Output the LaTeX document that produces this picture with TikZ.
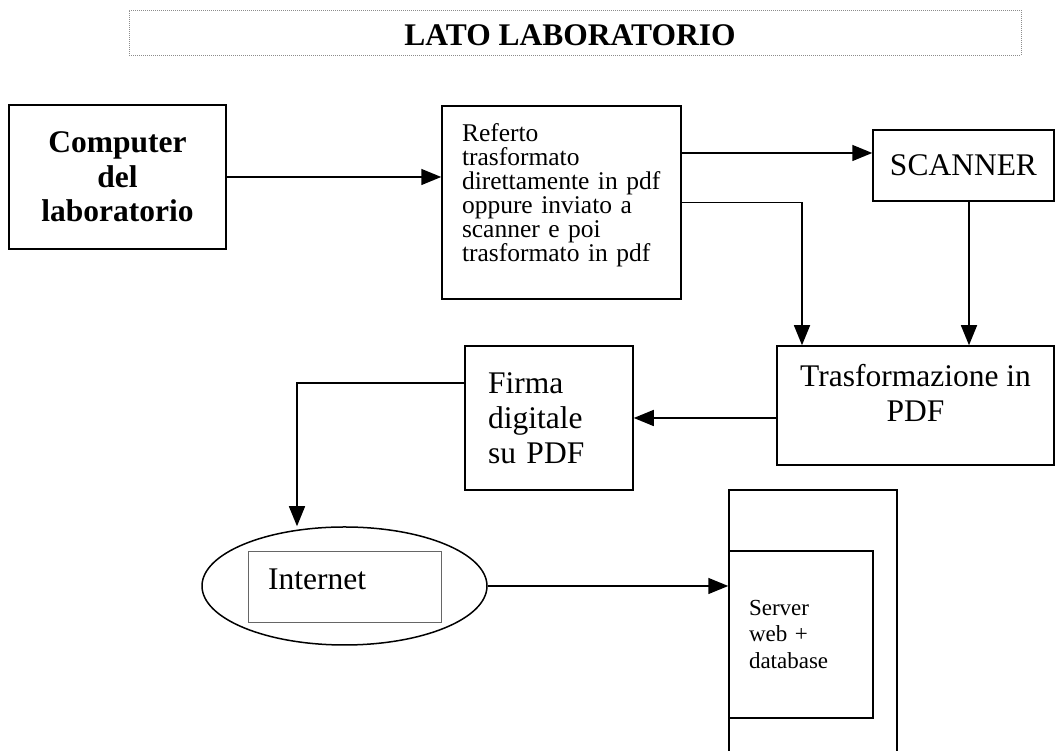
\documentclass[tikz,border=0pt]{standalone}
\usepackage{fontspec}
\setmainfont{Liberation Serif}
\usetikzlibrary{arrows.meta,shapes.geometric,positioning}

\begin{document}
\begin{tikzpicture}[x=1pt, y=1pt,
		box/.style={draw, line width=1.5pt, inner sep=0pt},
		big/.style={font=\fontsize{31.5}{35}\selectfont},
		small/.style={font=\fontsize{25.5}{24}\selectfont},
		arr/.style={line width=1.5pt, -{Triangle[length=20pt, width=16pt]}}]
		\clip (0,0) rectangle (1055,751);
		% titolo
		\node[draw=black!45, dash pattern=on 1pt off 1pt, line width=0.9pt, inner sep=0pt, minimum width=892pt, minimum height=45pt] (title) at (575,718.5) {};
		\node[big, font=\fontsize{31.5}{35}\selectfont\bfseries] (titletext) at (570,716) {LATO LABORATORIO};
		% blocchi
		\node[box, big, font=\fontsize{31.5}{34.5}\selectfont\bfseries, align=center, minimum width=217pt, minimum height=144pt] (comp) at (117.5,574) {Computer\\del\\laboratorio};
		\node[box, small, text width=199pt, align=left, text depth=140pt, minimum width=239pt, minimum height=193pt] (referto) at (561.5,548.5) {Referto\\trasformato\\direttamente in pdf\\oppure inviato a\\scanner e poi\\trasformato in pdf};
		\node[box, big, minimum width=181pt, minimum height=71pt] (scanner) at (963.5,585.5) {SCANNER};
		\node[box, big, align=center, text depth=26pt, minimum width=277pt, minimum height=119pt] (trasf) at (915.5,345.5) {Trasformazione in\\PDF};
		\node[box, big, text width=122pt, align=left, minimum width=168pt, minimum height=144pt] (firma) at (549,333) {Firma\\digitale\\su PDF};
		\node[ellipse, draw, line width=1.5pt, minimum width=285pt, minimum height=118pt] (net) at (344.5,165) {};
		\node[draw=black!60, line width=0.9pt, minimum width=193pt, minimum height=71pt] (netbox) at (344.5,164.5) {};
		\node[big, anchor=base west, inner sep=0pt] (nettext) at (268,161) {Internet};
		\node[box, minimum width=168pt, minimum height=310pt] (srvout) at (813,106) {};
		\node[box, font=\fontsize{23}{26.5}\selectfont, text width=104pt, align=left, minimum width=144pt, minimum height=167pt] (srvin) at (801,116.5) {Server\\web +\\database};
		% frecce
		\draw[arr] (comp.east) -- (comp.east -| referto.west);
		\draw[arr] ([yshift=12.5pt]scanner.west -| referto.east) -- ([yshift=12.5pt]scanner.west);
		\draw[arr] (referto.east) -| ([xshift=-113.5pt]trasf.north);
		\draw[arr] ([xshift=5.5pt]scanner.south) -- ([xshift=5.5pt]scanner.south |- trasf.north);
		\draw[arr] (trasf.west |- firma.east) -- (firma.east);
		\draw[arr] ([yshift=35pt]firma.west) -| ([xshift=-47.5pt]net.north);
		\draw[arr] (net.east) -- (net.east -| srvin.west);
	\end{tikzpicture}
\end{document}
